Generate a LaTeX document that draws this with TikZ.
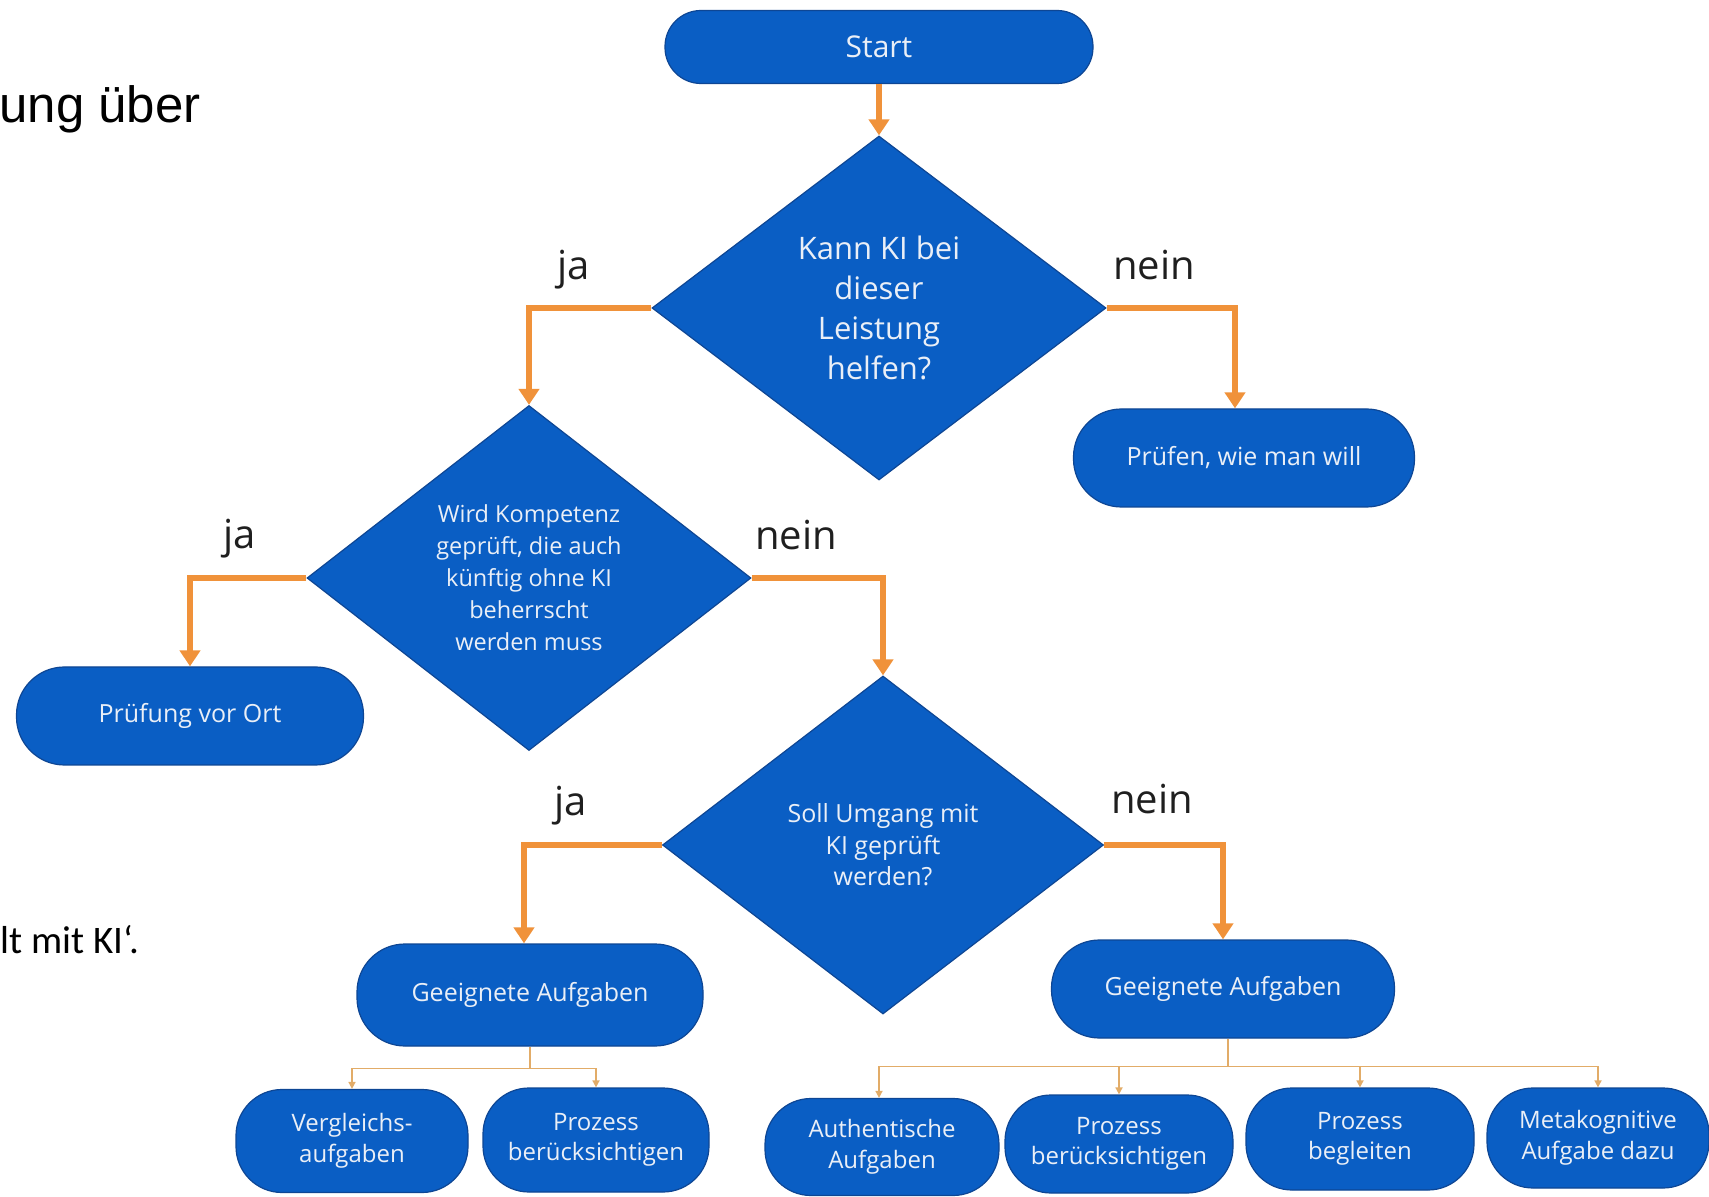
\documentclass[tikz,border=0pt]{standalone}
\usepackage{fontspec}
\setmainfont{Open Sans}
\newfontfamily\arialf{Liberation Sans}
\newfontfamily\calf{Carlito}
\usetikzlibrary{shapes.geometric,arrows.meta}
\definecolor{kblue}{RGB}{10,94,196}
\definecolor{kbord}{RGB}{14,70,148}
\definecolor{ktext}{RGB}{234,239,247}
\definecolor{korange}{RGB}{240,146,58}
\definecolor{ktan}{RGB}{226,172,104}
\begin{document}
\begin{tikzpicture}[x=0.5pt,y=-0.5pt,
  startbox/.style={rectangle, rounded corners=18pt, fill=kblue, draw=kbord, line width=0.6pt,
    text=ktext, align=center, inner sep=0pt, font=\fontsize{15}{18}\selectfont},
  box/.style={rectangle, rounded corners=24pt, fill=kblue, draw=kbord, line width=0.6pt,
    text=ktext, align=center, inner sep=0pt, font=\fontsize{12.5}{15}\selectfont},
  sbox/.style={rectangle, rounded corners=23pt, fill=kblue, draw=kbord, line width=0.6pt,
    text=ktext, align=center, inner sep=0pt, font=\fontsize{12}{15.25}\selectfont},
  dia/.style={diamond, aspect=1.3, fill=kblue, draw=kbord, line width=0.6pt,
    text=ktext, align=center, inner sep=0pt},
  lab/.style={anchor=base, inner sep=0pt, text=black!88, font=\fontsize{20}{24}\selectfont},
  marrow/.style={draw=korange, line width=2.8pt, -{Triangle[width=10pt,length=8pt]}},
  sline/.style={draw=ktan, line width=0.8pt},
  sarrow/.style={draw=ktan, line width=0.8pt, -{Triangle[width=3.5pt,length=3.5pt]}},
]
\useasboundingbox (0,0) rectangle (1709,1197);

% outside texts
\node[anchor=base west, inner sep=0pt, font=\arialf\fontsize{25.5}{30}\selectfont] (t1) at (-1,123) {ung über};
\node[anchor=base west, inner sep=0pt, font=\calf\fontsize{19.5}{23}\selectfont] (t2) at (0,953) {lt mit KI‘.};

% nodes
\node[startbox, minimum width=214pt, minimum height=36.5pt] (start) at (879,47) {Start};
\node[dia, minimum width=227pt, minimum height=172pt, font=\fontsize{15.5}{20}\selectfont] (d1) at (879,308)
  {Kann KI bei\\dieser\\Leistung\\helfen?};
\node[dia, minimum width=222pt, minimum height=172.5pt, font=\fontsize{11.75}{16}\selectfont] (d2) at (529,578)
  {Wird Kompetenz\\geprüft, die auch\\künftig ohne KI\\beherrscht\\werden muss};
\node[dia, minimum width=220.5pt, minimum height=169pt, font=\fontsize{12.5}{15.75}\selectfont] (d3) at (883,845)
  {Soll Umgang mit\\KI geprüft\\werden?};

\node[box, minimum width=170.5pt, minimum height=49pt] (pruefen) at (1244,458) {Prüfen, wie man will};
\node[box, minimum width=173.5pt, minimum height=49pt] (vorort) at (190,716) {Prüfung vor Ort};
\node[box, minimum width=173pt, minimum height=51pt] (geeigL) at (530,995) {Geeignete Aufgaben};
\node[box, minimum width=171.5pt, minimum height=49pt] (geeigR) at (1223,989) {Geeignete Aufgaben};

\node[sbox, minimum width=116pt, minimum height=51.5pt] (b1) at (352,1141) {Vergleichs-\\aufgaben};
\node[sbox, minimum width=113pt, minimum height=52pt] (b2) at (596,1140) {Prozess\\berücksichtigen};
\node[sbox, minimum width=117pt, minimum height=48.5pt] (b3) at (882,1147) {Authentische\\Aufgaben};
\node[sbox, minimum width=114pt, minimum height=49pt] (b4) at (1119,1144) {Prozess\\berücksichtigen};
\node[sbox, minimum width=114pt, minimum height=51pt] (b5) at (1360,1139) {Prozess\\begleiten};
\node[sbox, minimum width=111pt, minimum height=50pt] (b6) at (1598,1138) {Metakognitive\\Aufgabe dazu};

% labels
\node[lab] (ja1) at (574,280) {ja};
\node[lab] (nein1) at (1154,280) {nein};
\node[lab] (ja2) at (240,549) {ja};
\node[lab] (nein2) at (796,550) {nein};
\node[lab] (ja3) at (571,815) {ja};
\node[lab] (nein3) at (1152,813) {nein};

% main connectors
\draw[marrow] (start.south) -- (d1.north);
\draw[marrow] (d1.west) -| (d2.north);
\draw[marrow] (d1.east) -| ([xshift=-4.5pt]pruefen.north);
\draw[marrow] (d2.west) -| (vorort.north);
\draw[marrow] (d2.east) -| (d3.north);
\draw[marrow] (d3.west) -| ([xshift=-3pt]geeigL.north);
\draw[marrow] (d3.east) -| (geeigR.north);

% small connectors
\draw[sline] (geeigL.south) -- ++(0,22) coordinate (jL);
\draw[sarrow] (jL) -| (b1.north);
\draw[sarrow] (jL) -| (b2.north);
\draw[sline] ([xshift=2.5pt]geeigR.south) -- ++(0,28) coordinate (jR);
\draw[sarrow] (jR) -| ([xshift=-1.5pt]b3.north);
\draw[sarrow] (jR) -| (b4.north);
\draw[sarrow] (jR) -| (b5.north);
\draw[sarrow] (jR) -| (b6.north);
\end{tikzpicture}
\end{document}
